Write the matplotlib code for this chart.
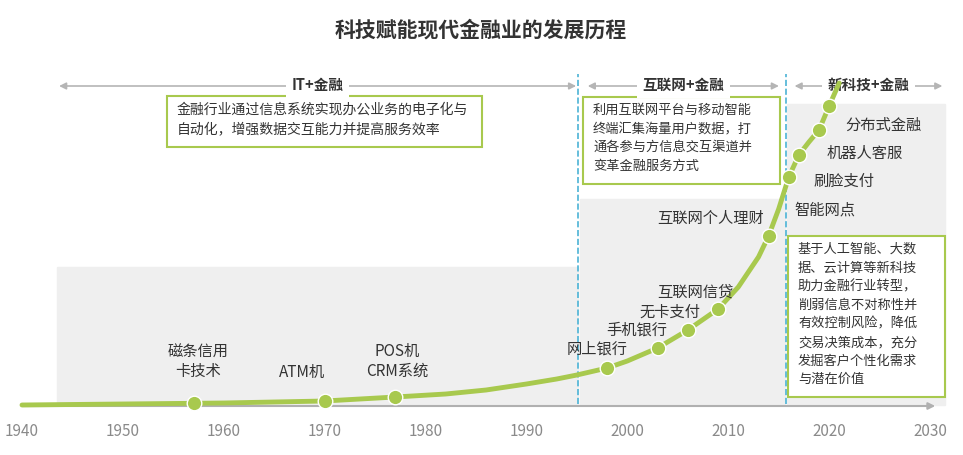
import numpy as np
import matplotlib.pyplot as plt
from matplotlib.patches import Rectangle

plt.rcParams["font.family"] = "Noto Sans CJK SC"

# data (x = year, h = curve height)
curve_years = [1940, 1950, 1960, 1970, 1977, 1982, 1986, 1990, 1993, 1995, 1998, 2000, 2003, 2006,
               2009, 2011, 2013, 2014, 2015, 2016, 2017, 2018, 2019, 2020, 2021]
curve_h = [0, 1, 2, 4, 8, 11, 15, 21, 26, 30, 37, 44, 57, 75,
           96, 118, 148, 169, 196, 228, 250, 263, 275, 299, 322]
point_years = [1957, 1970, 1977, 1998, 2003, 2006, 2009, 2014, 2016, 2017, 2019, 2020]
point_h = [2, 4, 8, 37, 57, 75, 96, 169, 228, 250, 275, 299]
tick_years = [1940, 1950, 1960, 1970, 1980, 1990, 2000, 2010, 2020, 2030]
milestones = [("磁条信用\n卡技术", 1957.5, 26), ("ATM机", 1967.8, 25), ("POS机\nCRM系统", 1977.2, 26),
              ("网上银行", 1997.0, 48), ("手机银行", 2000.9, 67), ("无卡支付", 2004.2, 85),
              ("互联网信贷", 2006.7, 105), ("互联网个人理财", 2008.3, 179),
              ("智能网点", 2019.6, 187), ("刷脸支付", 2021.5, 216),
              ("机器人客服", 2023.5, 244), ("分布式金融", 2025.4, 272)]
eras = [("IT+金融", 1943.4, 1995.2), ("互联网+金融", 1995.8, 2015.3), ("新科技+金融", 2016.3, 2031.5)]
notes = ["金融行业通过信息系统实现办公业务的电子化与\n自动化，增强数据交互能力并提高服务效率",
         "利用互联网平台与移动智能\n终端汇集海量用户数据，打\n通各参与方信息交互渠道并\n变革金融服务方式",
         "基于人工智能、大数\n据、云计算等新科技\n助力金融行业转型，\n削弱信息不对称性并\n有效控制风险，降低\n交易决策成本，充分\n发掘客户个性化需求\n与潜在价值"]

def px(x):
    return 1940 + (x - 22) / 10.089

def py(y):
    return 406 - y

fig = plt.figure(figsize=(9.63, 4.56), dpi=100)
ax = fig.add_axes([0, 0, 1, 1])
ax.set_xlim(px(0), px(963))
ax.set_ylim(py(456), py(0))
ax.axis("off")

green = "#a8c94e"
grey_bg = "#efefef"
# background regions
ax.add_patch(Rectangle((px(57), 0), px(578) - px(57), py(268), color=grey_bg, zorder=0))
ax.add_patch(Rectangle((px(580), 0), px(785) - px(580), py(200), color=grey_bg, zorder=0))
ax.add_patch(Rectangle((px(787), 0), px(945) - px(787), py(105), color=grey_bg, zorder=0))

# axis
ax.annotate("", xy=(px(938), py(407)), xytext=(px(20), py(407)),
            arrowprops=dict(arrowstyle="-|>", color="#b0b0b0", lw=1.5))
for t in tick_years:
    ax.text(t, py(432), str(t), ha="center", va="center", fontsize=11, color="#8a8a8a")

# dashed dividers
for x in [px(578), px(786)]:
    ax.plot([x, x], [py(405), py(75)], ls="--", color="#4bb3d6", lw=1.2, zorder=2)

# era headers
for name, x0, x1 in eras:
    xm = (x0 + x1) / 2
    ax.annotate("", xy=(x0, py(87)), xytext=(x1, py(87)),
                arrowprops=dict(arrowstyle="<|-|>", color="#b5b5b5", lw=1.2))
    ax.text(xm, py(85), name, ha="center", va="center", fontsize=10.5, fontweight="bold",
            color="#333333", bbox=dict(fc="white", ec="none", pad=4))

# curve
ax.plot(curve_years, curve_h, color=green, lw=3.5, zorder=3, solid_capstyle="round",
        solid_joinstyle="round")
ax.scatter(point_years, point_h, s=110, color=green, edgecolor="white", lw=1, zorder=4)

for lab, x, h in milestones:
    ax.text(x, h, lab, ha="center", va="bottom", fontsize=11, color="#333333", linespacing=1.2)

# note boxes
boxes = [(167, 97, 482, 148, 10), (583, 98, 780, 185, 9.5), (788, 237, 945, 398, 9.5)]
for (x0, y0, x1, y1, fs), txt in zip(boxes, notes):
    ax.add_patch(Rectangle((px(x0), py(y1)), px(x1) - px(x0), py(y0) - py(y1),
                           fc="white", ec=green, lw=1.5, zorder=2))
    ax.text(px(x0 + 10), py(y0 + 6), txt, ha="left", va="top", fontsize=fs,
            color="#333333", linespacing=1.55, zorder=3)

ax.text(px(481), py(30), "科技赋能现代金融业的发展历程", ha="center", va="center",
        fontsize=15, fontweight="bold", color="#333333")

fig.savefig("out.png", dpi=100)
